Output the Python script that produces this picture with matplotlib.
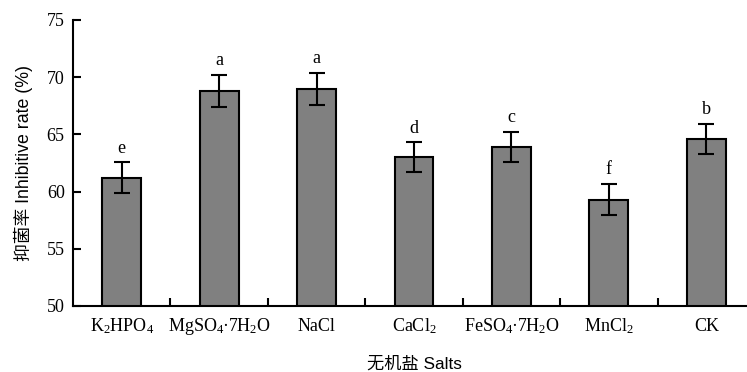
import matplotlib
matplotlib.use("Agg")
import matplotlib.pyplot as plt
import numpy as np

salts = [r"K$_2$HPO$_4$", r"MgSO$_4$·7H$_2$O", "NaCl", r"CaCl$_2$",
         r"FeSO$_4$·7H$_2$O", r"MnCl$_2$", "CK"]
rates = [61.2, 68.8, 68.95, 63.0, 63.9, 59.3, 64.6]
errors = [1.35, 1.4, 1.4, 1.3, 1.3, 1.35, 1.3]
letters = ["e", "a", "a", "d", "c", "f", "b"]

plt.rcParams["font.family"] = ["Liberation Serif"]
plt.rcParams["mathtext.fontset"] = "custom"
plt.rcParams["mathtext.rm"] = "Liberation Serif"
plt.rcParams["mathtext.default"] = "regular"

fig = plt.figure(figsize=(7.47, 3.72), dpi=100)
ax = fig.add_axes([73 / 747, 66 / 372, 682 / 747, 286 / 372])

x = np.arange(len(salts))
ax.bar(x, rates, width=0.4, color="#808080", edgecolor="black", linewidth=1.5,
       zorder=2)
ax.errorbar(x, rates, yerr=errors, fmt="none", ecolor="black", elinewidth=1.5,
            capsize=6, capthick=1.5, zorder=3)
for xi, r, e, lab in zip(x, rates, errors, letters):
    ax.text(xi, r + e + 0.5, lab, ha="center", va="bottom", fontsize=13)

ax.set_xlim(-0.5, len(salts) - 0.5)
ax.set_ylim(50, 75)
ax.set_yticks(range(50, 76, 5))
ax.set_xticks(x)
ax.set_xticklabels(salts, fontsize=13, va="baseline")
ax.set_xticks(x[:-1] + 0.5, minor=True)
ax.tick_params(axis="x", which="major", length=0, pad=18)
ax.tick_params(axis="x", which="minor", direction="in", length=6, width=1.5)
ax.tick_params(axis="y", direction="in", length=6, width=1.5, labelsize=13,
               pad=6)

for side in ("top", "right"):
    ax.spines[side].set_visible(False)
for side in ("left", "bottom"):
    ax.spines[side].set_linewidth(1.5)

cjk = ["Liberation Sans", "Noto Sans CJK SC"]
ax.set_ylabel("抑菌率 Inhibitive rate (%)", family=cjk, fontsize=12.8, labelpad=10)
ax.set_xlabel("无机盐 Salts", family=cjk, fontsize=12.4, labelpad=14)

fig.savefig("out.png", dpi=100)
